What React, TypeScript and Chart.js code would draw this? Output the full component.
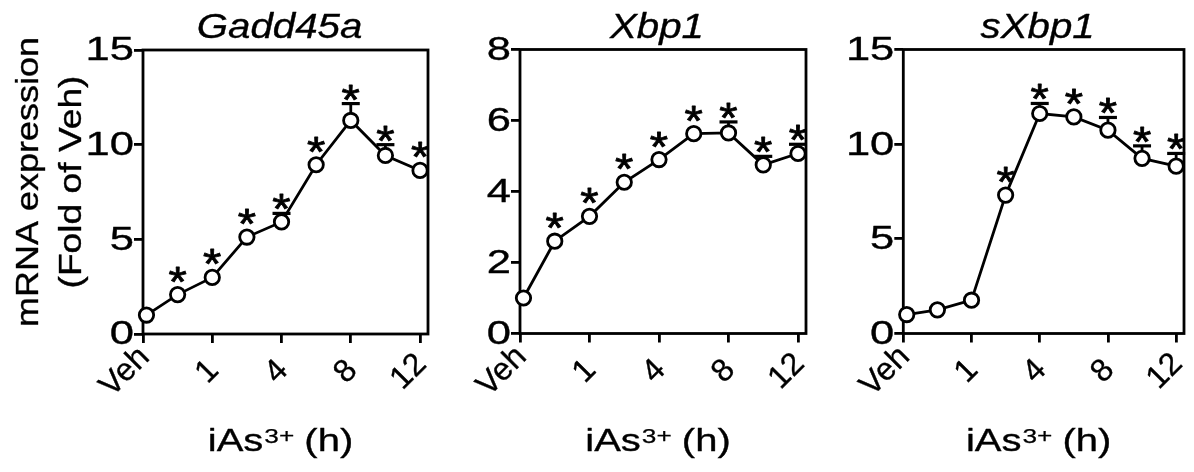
import React, { useEffect, useRef } from 'react';
import { Chart, registerables } from 'chart.js';

Chart.register(...registerables);

// ---------- data ----------
const xPositions = [0.1, 1, 2, 3, 4, 5, 6, 7, 8];
const xTickValues = [0, 2, 4, 6, 8];
const xTickLabels = ['Veh', '1', '4', '8', '12'];

const gadd45aMean = [1.0, 2.08, 2.99, 5.12, 5.92, 8.94, 11.28, 9.43, 8.64];
const gadd45aErr = [0, 0, 0, 0, 0.45, 0, 0.89, 0.57, 0];
const gadd45aSig = [false, true, true, true, true, true, true, true, true];
const gadd45aYTicks = [0, 5, 10, 15];

const xbp1Mean = [1.0, 2.6, 3.3, 4.26, 4.9, 5.63, 5.65, 4.75, 5.07];
const xbp1Err = [0, 0, 0, 0, 0, 0, 0.31, 0.24, 0.26];
const xbp1Sig = [false, true, true, true, true, true, true, true, true];
const xbp1YTicks = [0, 2, 4, 6, 8];

const sxbp1Mean = [1.0, 1.25, 1.76, 7.31, 11.62, 11.44, 10.74, 9.25, 8.84];
const sxbp1Err = [0, 0, 0, 0, 0.53, 0, 0.67, 0.66, 0.67];
const sxbp1Sig = [false, false, false, true, true, true, true, true, true];
const sxbp1YTicks = [0, 5, 10, 15];

const panelTitles = ['Gadd45a', 'Xbp1', 'sXbp1'];
const yAxisTitleLines = ['mRNA expression', '(Fold of Veh)'];
const xAxisTitleBase = 'iAs';
const xAxisTitleSup = '3+';
const xAxisTitleRest = ' (h)';

// ---------- layout / style ----------
const W = 1194;
const H = 472;
const FONT = '"Liberation Sans", Arial, Helvetica, sans-serif';
const X_MAX = 8.23;

const panels = [
  { title: panelTitles[0], mean: gadd45aMean, err: gadd45aErr, sig: gadd45aSig, yTicks: gadd45aYTicks, left: 143, right: 428, top: 50, bottom: 334, showYTitle: true },
  { title: panelTitles[1], mean: xbp1Mean, err: xbp1Err, sig: xbp1Sig, yTicks: xbp1YTicks, left: 520, right: 806, top: 49.5, bottom: 333.5, showYTitle: false },
  { title: panelTitles[2], mean: sxbp1Mean, err: sxbp1Err, sig: sxbp1Sig, yTicks: sxbp1YTicks, left: 903.3, right: 1187.7, top: 49.5, bottom: 333.5, showYTitle: false },
];

function drawText(
  ctx: CanvasRenderingContext2D,
  text: string,
  x: number,
  y: number,
  o: { size: number; italic?: boolean; sx?: number; align?: CanvasTextAlign; baseline?: CanvasTextBaseline; rot?: number; weight?: number }
) {
  ctx.save();
  ctx.translate(x, y);
  if (o.rot) ctx.rotate(o.rot);
  const sx = o.sx ?? 1;
  ctx.scale(sx, 1);
  ctx.font = `${o.italic ? 'italic ' : ''}${o.size}px ${FONT}`;
  ctx.textAlign = o.align ?? 'left';
  ctx.textBaseline = o.baseline ?? 'alphabetic';
  ctx.fillStyle = '#000';
  ctx.fillText(text, 0, 0);
  const wgt = o.weight ?? 0.35;
  if (wgt > 0) {
    ctx.strokeStyle = '#000';
    ctx.lineJoin = 'round';
    ctx.lineWidth = wgt;
    ctx.strokeText(text, 0, 0);
  }
  ctx.restore();
}

function measure(ctx: CanvasRenderingContext2D, text: string, size: number, italic = false) {
  ctx.save();
  ctx.font = `${italic ? 'italic ' : ''}${size}px ${FONT}`;
  const m = ctx.measureText(text);
  ctx.restore();
  return m;
}

function Panel({ p }: { p: (typeof panels)[number] }) {
  const ref = useRef<HTMLCanvasElement>(null);

  useEffect(() => {
    const canvas = ref.current!;
    const points = xPositions.map((x, i) => ({ x, y: p.mean[i] }));
    const yMax = p.yTicks[p.yTicks.length - 1];

    const decor = {
      id: 'decor',
      beforeDatasetsDraw(chart: any) {
        const ctx: CanvasRenderingContext2D = chart.ctx;
        const xs = chart.scales.x;
        const ys = chart.scales.y;
        const a = chart.chartArea;
        ctx.save();
        ctx.strokeStyle = '#000';
        ctx.lineWidth = 2.8;
        ctx.strokeRect(a.left, a.top, a.right - a.left, a.bottom - a.top);
        // error bars (upper)
        p.err.forEach((e, i) => {
          if (!e) return;
          const px = xs.getPixelForValue(xPositions[i]);
          const py = ys.getPixelForValue(p.mean[i]);
          const cy = ys.getPixelForValue(p.mean[i] + e);
          ctx.lineWidth = 2.8;
          ctx.beginPath();
          ctx.moveTo(px, py);
          ctx.lineTo(px, cy);
          ctx.stroke();
          ctx.lineWidth = 3.2;
          ctx.beginPath();
          ctx.moveTo(px - 9, cy);
          ctx.lineTo(px + 9, cy);
          ctx.stroke();
        });
        ctx.restore();
      },
      afterDatasetsDraw(chart: any) {
        const ctx: CanvasRenderingContext2D = chart.ctx;
        const xs = chart.scales.x;
        const ys = chart.scales.y;
        const a = chart.chartArea;
        // asterisks
        const am = measure(ctx, '*', 42);
        p.sig.forEach((s, i) => {
          if (!s) return;
          const px = xs.getPixelForValue(xPositions[i]);
          const py = ys.getPixelForValue(p.mean[i]);
          const cy = ys.getPixelForValue(p.mean[i] + p.err[i]);
          const top = Math.min(cy, py - 9) - 3;
          drawText(ctx, '*', px, top - am.actualBoundingBoxDescent, { size: 42, sx: 1.12, align: 'center', weight: 0.8 });
        });
        // y tick labels
        p.yTicks.forEach((v) => {
          drawText(ctx, String(v), a.left - 9, ys.getPixelForValue(v) + 1, { size: 34, sx: 1.28, align: 'right', baseline: 'middle' });
        });
        // x tick labels rotated
        xTickValues.forEach((v, i) => {
          const tx = xs.getPixelForValue(v);
          const L = measure(ctx, xTickLabels[i], 32).width;
          const cx = tx + 1.5 - 0.354 * L;
          const cy = a.bottom + 38;
          drawText(ctx, xTickLabels[i], cx, cy, { size: 32, align: 'center', baseline: 'middle', rot: -Math.PI / 4 });
        });
        const mid = (a.left + a.right) / 2;
        // title
        drawText(ctx, p.title, mid - 6, 38, { size: 35, italic: true, sx: 1.15, align: 'center' });
        // x axis title with superscript
        const sx = 1.25;
        const w1 = measure(ctx, xAxisTitleBase, 32).width * sx;
        const w2 = measure(ctx, xAxisTitleSup, 21).width * sx;
        const w3 = measure(ctx, xAxisTitleRest, 32).width * sx;
        let x0 = mid - 5 - (w1 + w2 + w3) / 2;
        drawText(ctx, xAxisTitleBase, x0, 451, { size: 32, sx });
        x0 += w1;
        drawText(ctx, xAxisTitleSup, x0 + 1, 443, { size: 21, sx, weight: 0.25 });
        x0 += w2;
        drawText(ctx, xAxisTitleRest, x0, 451, { size: 32, sx });
        // y axis title
        if (p.showYTitle) {
          const cyT = (a.top + a.bottom) / 2 - 10;
          drawText(ctx, yAxisTitleLines[0], 38, cyT, { size: 31, sx: 1.16, align: 'center', rot: -Math.PI / 2 });
          drawText(ctx, yAxisTitleLines[1], 81, cyT, { size: 31, sx: 1.2, align: 'center', rot: -Math.PI / 2 });
        }
      },
    };

    const gridOpts = {
      display: true,
      drawOnChartArea: false,
      drawTicks: true,
      tickLength: 9,
      lineWidth: 2.8,
      color: '#000',
    };

    const chart = new Chart(canvas, {
      type: 'line',
      data: {
        datasets: [
          {
            data: points,
            borderColor: '#000',
            borderWidth: 2.8,
            backgroundColor: '#fff',
            pointRadius: 7.2,
            pointBorderWidth: 2.8,
            pointBackgroundColor: '#fff',
            pointBorderColor: '#000',
            tension: 0,
            clip: false as any,
          },
        ],
      },
      options: {
        responsive: false,
        animation: false,
        events: [],
        layout: {
          padding: { left: p.left, right: W - p.right, top: p.top, bottom: H - p.bottom },
        },
        plugins: { legend: { display: false }, tooltip: { enabled: false }, title: { display: false } },
        scales: {
          x: {
            type: 'linear',
            position: 'bottom',
            min: 0,
            max: X_MAX,
            afterBuildTicks: (s: any) => {
              s.ticks = xTickValues.map((v) => ({ value: v }));
            },
            afterFit: (s: any) => {
              s.height = 0;
            },
            ticks: { display: false },
            grid: gridOpts,
            border: { display: false },
          },
          y: {
            type: 'linear',
            position: 'left',
            min: 0,
            max: yMax,
            afterBuildTicks: (s: any) => {
              s.ticks = p.yTicks.map((v) => ({ value: v }));
            },
            afterFit: (s: any) => {
              s.width = 0;
            },
            ticks: { display: false },
            grid: gridOpts,
            border: { display: false },
          },
        },
      } as any,
      plugins: [decor],
    });
    return () => chart.destroy();
  }, [p]);

  return <canvas ref={ref} width={W} height={H} style={{ position: 'absolute', left: 0, top: 0, width: W, height: H }} />;
}

export default function App() {
  return (
    <div style={{ position: 'fixed', left: 0, top: 0, width: W, height: H, background: '#fff', overflow: 'hidden' }}>
      {panels.map((p, i) => (
        <Panel key={i} p={p} />
      ))}
    </div>
  );
}
